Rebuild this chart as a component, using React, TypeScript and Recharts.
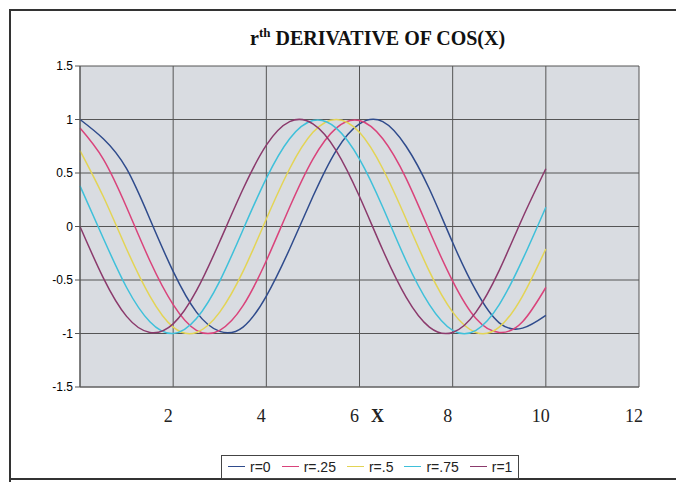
import React from 'react';
import { LineChart, Line, XAxis, YAxis, CartesianGrid, Legend } from 'recharts';

const xValues = [0, 0.5, 1, 1.5, 2, 2.5, 3, 3.5, 4, 4.5, 5, 5.5, 6, 6.5, 7, 7.5, 8, 8.5, 9, 9.5, 10];
const r0 = [1.0, 0.82, 0.54, 0.07, -0.42, -0.8, -0.98, -0.94, -0.65, -0.21, 0.28, 0.71, 0.96, 0.98, 0.75, 0.35, -0.15, -0.6, -0.9, -0.95, -0.83];
const r25 = [0.92, 0.63, 0.18, -0.32, -0.73, -0.97, -0.97, -0.74, -0.32, 0.18, 0.63, 0.92, 0.99, 0.82, 0.45, -0.04, -0.51, -0.86, -0.99, -0.89, -0.57];
const r50 = [0.71, 0.28, -0.21, -0.65, -0.94, -0.99, -0.8, -0.42, 0.07, 0.54, 0.88, 1.0, 0.88, 0.54, 0.07, -0.42, -0.8, -0.99, -0.94, -0.65, -0.21];
const r75 = [0.38, -0.11, -0.57, -0.89, -1.0, -0.86, -0.51, -0.03, 0.45, 0.82, 0.99, 0.92, 0.63, 0.18, -0.32, -0.73, -0.97, -0.97, -0.73, -0.31, 0.18];
const r100 = [0.0, -0.48, -0.84, -0.99, -0.91, -0.6, -0.14, 0.35, 0.76, 0.98, 0.96, 0.71, 0.28, -0.22, -0.66, -0.94, -0.99, -0.8, -0.41, 0.08, 0.54];

const xTicks = [0, 2, 4, 6, 8, 10, 12];
const yTicks = [-1.5, -1, -0.5, 0, 0.5, 1, 1.5];

const seriesKeys = ['r0', 'r25', 'r50', 'r75', 'r100'];
const seriesNames = ['r=0', 'r=.25', 'r=.5', 'r=.75', 'r=1'];
const seriesColors = ['#2F4B8C', '#D9437B', '#E3D455', '#3FC0DA', '#8B3A6C'];
const seriesValues = [r0, r25, r50, r75, r100];

const data = xValues.map((x, i) => {
  const row: any = { x };
  seriesKeys.forEach((k, j) => {
    row[k] = seriesValues[j][i];
  });
  return row;
});

const SERIF = "'Liberation Serif', 'Times New Roman', serif";
const SANS = "'Liberation Sans', Arial, sans-serif";

const XTick = (props: any) => {
  const { x, y, payload } = props;
  if (payload.value === 0) return <g />;
  return (
    <g>
      <text x={x - 5} y={y + 35} textAnchor="middle" fontFamily={SERIF} fontSize={18} fill="#222">
        {payload.value}
      </text>
      {payload.value === 6 && (
        <text x={x + 18} y={y + 35} textAnchor="middle" fontFamily={SERIF} fontSize={18} fontWeight="bold" fill="#222">
          X
        </text>
      )}
    </g>
  );
};

const renderLegend = () => (
  <div
    style={{
      display: 'inline-flex',
      alignItems: 'center',
      border: '1px solid #444',
      padding: '3px 6px',
      background: '#fff',
      fontFamily: SANS,
      fontSize: 14,
      color: '#222',
      whiteSpace: 'nowrap',
    }}
  >
    {seriesNames.map((name, i) => (
      <span key={name} style={{ display: 'inline-flex', alignItems: 'center', marginRight: i < seriesNames.length - 1 ? 11 : 0 }}>
        <span style={{ display: 'inline-block', width: 17, height: 0, borderTop: `1.5px solid ${seriesColors[i]}`, marginRight: 5 }} />
        {name}
      </span>
    ))}
  </div>
);

export default function App() {
  return (
    <div style={{ position: 'absolute', left: 0, top: 0, width: 676, height: 482, background: '#fff', overflow: 'hidden' }}>
      <div style={{ position: 'absolute', left: 9, top: 9, width: 700, height: 0, borderTop: '2px solid #333' }} />
      <div style={{ position: 'absolute', left: 9, top: 9, width: 0, height: 480, borderLeft: '2px solid #333' }} />
      <div style={{ position: 'absolute', left: 9, top: 478, width: 700, height: 0, borderTop: '2px solid #333' }} />
      <div
        style={{
          position: 'absolute',
          left: 250,
          top: 27,
          whiteSpace: 'nowrap',
          fontFamily: SERIF,
          fontWeight: 'bold',
          fontSize: 20,
          lineHeight: '23px',
          color: '#111',
        }}
      >
        r<span style={{ fontSize: 13, position: 'relative', top: -8 }}>th</span> DERIVATIVE OF COS(X)
      </div>
      <div style={{ position: 'absolute', left: 0, top: 0 }}>
        <LineChart width={676} height={482} data={data} margin={{ top: 66, right: 37, bottom: 20, left: 20 }}>
          <CartesianGrid stroke="#555" strokeWidth={1} fill="#D9DCE1" fillOpacity={1} horizontalValues={yTicks} verticalValues={xTicks} />
          <XAxis
            type="number"
            dataKey="x"
            domain={[0, 12]}
            ticks={xTicks}
            tickLine={false}
            tickSize={0}
            tickMargin={0}
            axisLine={{ stroke: '#666' }}
            tick={<XTick />}
            height={75}
            interval={0}
          />
          <YAxis
            type="number"
            domain={[-1.5, 1.5]}
            ticks={yTicks}
            width={60}
            tickSize={5}
            tickMargin={2}
            axisLine={{ stroke: '#555' }}
            tickLine={{ stroke: '#555' }}
            tick={{ fontFamily: SANS, fontSize: 12, fill: '#000' }}
            interval={0}
          />
          <Legend
            layout="horizontal"
            verticalAlign="middle"
            align="center"
            content={renderLegend}
            wrapperStyle={{ left: 221, top: 453, width: 'auto' }}
          />
          {seriesKeys.map((k, j) => (
            <Line
              key={k}
              type="natural"
              dataKey={k}
              name={seriesNames[j]}
              stroke={seriesColors[j]}
              strokeWidth={1.5}
              dot={false}
              activeDot={false}
              isAnimationActive={false}
            />
          ))}
        </LineChart>
      </div>
    </div>
  );
}
